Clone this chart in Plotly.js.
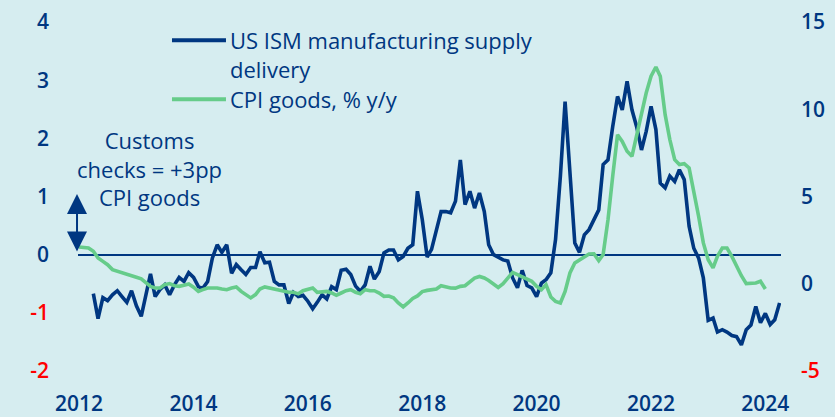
<!DOCTYPE html>
<html><head><meta charset="utf-8">
<script src="https://cdn.plot.ly/plotly-3.0.1.min.js"></script>
<style>html,body{margin:0;padding:0;background:#d6edf0;}#chart{width:835px;height:417px;}</style>
</head><body><div id="chart"></div>
<script>
// US ISM manufacturing supplier deliveries (standardised), monthly from Apr 2012
const ismStart = [2012, 4];
const ismValues = [
 -0.67,-1.10,-0.74,-0.79,-0.69,-0.62,-0.72,-0.82,-0.62,
 -0.88,-1.06,-0.69,-0.33,-0.72,-0.60,-0.52,-0.69,-0.52,-0.39,-0.46,-0.31,
 -0.39,-0.55,-0.58,-0.46,-0.06,0.17,0.04,0.17,-0.32,-0.17,-0.26,-0.34,
 -0.22,-0.22,0.05,-0.14,-0.13,-0.46,-0.52,-0.52,-0.84,-0.65,-0.72,-0.70,
 -0.80,-0.93,-0.82,-0.69,-0.76,-0.55,-0.60,-0.27,-0.25,-0.34,-0.54,-0.63,
 -0.52,-0.20,-0.42,-0.29,0.03,0.08,0.08,-0.09,-0.03,0.11,0.17,1.09,
 0.60,-0.04,0.09,0.43,0.74,0.74,0.72,0.92,1.63,0.86,1.09,0.80,
 1.06,0.74,0.17,0.00,-0.04,-0.09,-0.11,-0.40,-0.57,-0.27,-0.53,-0.57,
 -0.72,-0.49,-0.43,-0.31,0.26,1.35,2.63,1.46,0.20,0.04,0.34,0.43,
 0.60,0.77,1.55,1.63,2.20,2.72,2.49,2.98,2.49,2.20,1.80,2.12,
 2.55,2.15,1.23,1.15,1.35,1.26,1.46,1.29,0.49,0.11,-0.06,-0.40,
 -1.13,-1.09,-1.33,-1.29,-1.33,-1.39,-1.41,-1.55,-1.29,-1.21,-0.89,-1.17,
 -1.01,-1.20,-1.12,-0.83
];
// CPI goods, % y/y, monthly from Jan 2012
const cpiStart = [2012, 1];
const cpiValues = [
 2.11,2.08,2.05,1.86,1.48,1.28,1.09,0.81,0.71,0.65,0.55,0.46,
 0.37,0.28,0.05,-0.15,-0.24,-0.24,-0.05,0.01,-0.11,-0.15,-0.08,-0.01,
 -0.20,-0.44,-0.34,-0.24,-0.24,-0.24,-0.30,-0.34,-0.24,-0.18,-0.44,-0.62,
 -0.81,-0.62,-0.30,-0.18,-0.24,-0.30,-0.38,-0.44,-0.49,-0.49,-0.58,-0.40,
 -0.30,-0.24,-0.49,-0.44,-0.44,-0.53,-0.66,-0.53,-0.40,-0.34,-0.49,-0.57,
 -0.34,-0.40,-0.40,-0.53,-0.72,-0.70,-0.81,-1.10,-1.33,-1.10,-0.84,-0.70,
 -0.45,-0.38,-0.34,-0.30,-0.11,-0.20,-0.24,-0.25,-0.15,-0.11,0.14,0.33,
 0.42,0.33,0.19,0.01,-0.21,0.01,0.33,0.65,0.52,0.39,0.24,0.14,
 -0.15,-0.34,-0.05,-0.76,-1.01,-1.10,-0.44,0.62,1.19,1.38,1.57,1.71,
 1.72,1.32,1.67,3.67,6.15,8.54,8.16,7.59,7.30,8.45,9.59,10.93,
 11.89,12.42,11.89,9.69,8.26,7.11,6.83,6.88,6.64,5.39,3.86,2.34,
 1.38,0.91,1.57,2.05,2.05,1.57,1.00,0.46,0.01,0.01,0.04,0.14,
 -0.30
];
const leftTicks = [-2, -1, 0, 1, 2, 3, 4];
const rightTicks = [-5, 0, 5, 10, 15];
const seriesNames = ['US ISM manufacturing supply<br>delivery', 'CPI goods, % y/y'];
const noteText = 'Customs<br>checks = +3pp<br>CPI goods';

const BLUE = '#003781', GREEN = '#66cc8a', RED = '#ff0000', BG = '#d6edf0';

function monthDates(start, n) {
  const out = [];
  for (let i = 0; i < n; i++) {
    const t = (start[0] * 12 + (start[1] - 1)) + i;
    const y = Math.floor(t / 12), m = t % 12 + 1;
    out.push(y + '-' + String(m).padStart(2, '0') + '-01');
  }
  return out;
}
function tickText(vals) {
  return vals.map(v => v < 0 ? '<span style="color:' + RED + '">' + v + '</span>' : String(v));
}

const tickFont = {family: 'Open Sans', size: 21, color: BLUE, weight: 600};
const textFont = {family: 'Open Sans', size: 22, color: BLUE, weight: 500};

const traces = [
  {x: monthDates(ismStart, ismValues.length), y: ismValues, type: 'scatter', mode: 'lines',
   name: 'US ISM manufacturing supply delivery', yaxis: 'y', line: {color: BLUE, width: 3.6}, showlegend: false},
  {x: monthDates(cpiStart, cpiValues.length), y: cpiValues, type: 'scatter', mode: 'lines',
   name: 'CPI goods, % y/y', yaxis: 'y2', line: {color: GREEN, width: 3.6}, showlegend: false}
];

const layout = {
  width: 835, height: 417,
  paper_bgcolor: BG, plot_bgcolor: BG,
  margin: {l: 78, r: 54, t: 22, b: 46, pad: 0},
  showlegend: false,
  xaxis: {type: 'date', range: ['2011-12-25', '2024-04-10'], tick0: '2012-01-01', dtick: 'M24',
          tickformat: '%Y', showgrid: false, zeroline: false, showline: false, ticks: '',
          tickfont: tickFont, ticklabelstandoff: 18},
  yaxis: {range: [-2, 4], tickmode: 'array', tickvals: leftTicks, ticktext: tickText(leftTicks),
          showgrid: false, zeroline: true, zerolinecolor: BLUE, zerolinewidth: 2, showline: false,
          ticks: '', tickfont: tickFont, ticklabelstandoff: 28},
  yaxis2: {range: [-5, 15], overlaying: 'y', side: 'right', tickmode: 'array', tickvals: rightTicks,
           ticktext: tickText(rightTicks), showgrid: false, zeroline: false, showline: false,
           ticks: '', tickfont: tickFont, ticklabelstandoff: 19},
  shapes: [
    {type: 'line', xref: 'paper', yref: 'paper', x0: 0.1337, x1: 0.2105, y0: 0.948, y1: 0.948,
     line: {color: BLUE, width: 4}},
    {type: 'line', xref: 'paper', yref: 'paper', x0: 0.1337, x1: 0.2105, y0: 0.779, y1: 0.779,
     line: {color: GREEN, width: 4}}
  ],
  annotations: [
    {xref: 'paper', yref: 'paper', x: 0.2135, y: 0.907, xanchor: 'left', yanchor: 'middle', align: 'left',
     text: seriesNames[0], showarrow: false, font: textFont},
    {xref: 'paper', yref: 'paper', x: 0.2135, y: 0.779, xanchor: 'left', yanchor: 'middle', align: 'left',
     text: seriesNames[1], showarrow: false, font: textFont},
    {xref: 'paper', yref: 'paper', x: 0.1024, y: 0.579, xanchor: 'center', yanchor: 'middle', align: 'center',
     text: noteText, showarrow: false, font: textFont},
    {xref: 'paper', yref: 'paper', x: -0.0014, y: 0.507, text: '', showarrow: true,
     ax: 0, ay: 59, arrowside: 'end+start', arrowhead: 2, startarrowhead: 2,
     arrowsize: 2.0, startarrowsize: 2.0, arrowwidth: 2, arrowcolor: BLUE, standoff: 0, startstandoff: 0}
  ]
};

Plotly.newPlot('chart', traces, layout, {displayModeBar: false, staticPlot: true});
</script>
</body></html>
